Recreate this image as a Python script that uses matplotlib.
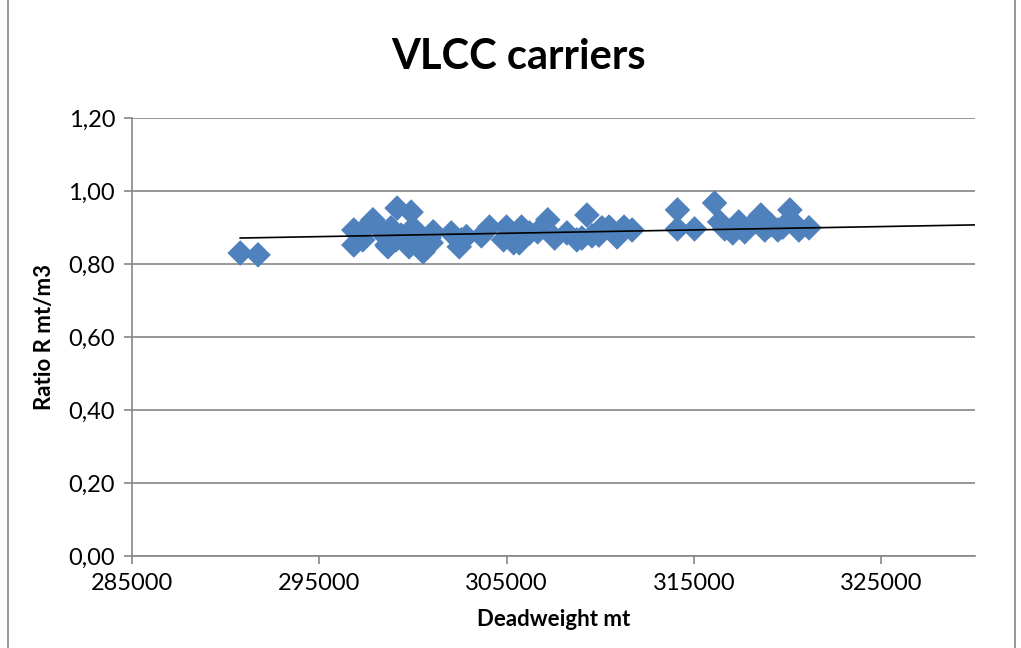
import matplotlib.pyplot as plt
from matplotlib.patches import Rectangle

plt.rcParams['font.family'] = ['Lato', 'DejaVu Sans']

# Deadweight (mt) and ratio R (mt/m3)
deadweight = [
    290790, 291740,
    296850, 296850, 297330, 297870, 298300, 298620, 298830, 299160, 299370,
    299640, 299910, 300010, 300340, 300550, 300870, 301090, 297490, 298510,
    299100, 300170, 300710, 298670, 299800, 300980,
    302050, 302590, 303660, 304090, 305000, 305380, 305800, 306230, 306660,
    307200, 307570, 308220, 308750, 309290, 309560, 309930, 310470, 310900,
    311270, 311700, 302860, 304840, 309020, 310090, 302480, 305680,
    314120, 314120, 315030, 316100, 316370, 316640, 317070, 317390, 317710,
    318240, 318570, 318780, 319100, 319480, 319740, 320120, 320280, 320600,
    321140,
]
ratio = [
    0.830, 0.825,
    0.852, 0.893, 0.866, 0.921, 0.893, 0.852, 0.899, 0.953, 0.879,
    0.866, 0.942, 0.899, 0.852, 0.833, 0.871, 0.888, 0.899, 0.877,
    0.866, 0.879, 0.858, 0.847, 0.847, 0.858,
    0.885, 0.866, 0.877, 0.901, 0.901, 0.858, 0.901, 0.885, 0.888,
    0.921, 0.871, 0.885, 0.866, 0.934, 0.877, 0.879, 0.901, 0.874,
    0.901, 0.893, 0.875, 0.866, 0.871, 0.899, 0.847, 0.858,
    0.948, 0.896, 0.896, 0.967, 0.915, 0.896, 0.885, 0.915, 0.888,
    0.915, 0.934, 0.893, 0.907, 0.893, 0.901, 0.948, 0.915, 0.893,
    0.899,
]

# linear trendline end points as shown on the chart
trend_x = [290790, 330000]
trend_y = [0.871, 0.907]

x_ticks = [285000, 295000, 305000, 315000, 325000]
y_ticks = [0.0, 0.2, 0.4, 0.6, 0.8, 1.0, 1.2]

fig = plt.figure(figsize=(10.21, 6.48), dpi=100)
ax = fig.add_axes([0.129, 0.142, 0.826, 0.676])

# outer chart frame
fig.patches.append(Rectangle((0.008, -0.01), 0.986, 1.05, transform=fig.transFigure,
                             fill=False, edgecolor='#868686', linewidth=1.2))

ax.scatter(deadweight, ratio, marker='D', s=170, color='#4F81BD', edgecolors='none', zorder=3)
ax.plot(trend_x, trend_y, color='black', linewidth=1.2, zorder=4)

ax.set_xlim(285000, 330000)
ax.set_ylim(0, 1.2)
ax.set_xticks(x_ticks)
ax.set_yticks(y_ticks)
ax.set_yticklabels([f"{v:.2f}".replace('.', ',') for v in y_ticks])
ax.set_xticklabels([str(v) for v in x_ticks])

ax.grid(axis='y', color='#868686', linewidth=1.2)
ax.set_axisbelow(True)
for side in ['top', 'right']:
    ax.spines[side].set_visible(False)
for side in ['left', 'bottom']:
    ax.spines[side].set_color('#868686')
    ax.spines[side].set_linewidth(1.2)
ax.tick_params(colors='#868686', labelcolor='black', labelsize=17, length=6, width=1.2)
ax.tick_params(axis='x', pad=6)
ax.tick_params(axis='y', pad=6)

fig.text(0.508, 0.912, "VLCC carriers", fontsize=30, fontweight='bold', ha='center', va='center')
ax.set_xlabel("Deadweight mt", fontsize=16, fontweight='bold', labelpad=11)
ax.set_ylabel("Ratio R mt/m3", fontsize=16, fontweight='bold', labelpad=10)

fig.savefig("out.png")
